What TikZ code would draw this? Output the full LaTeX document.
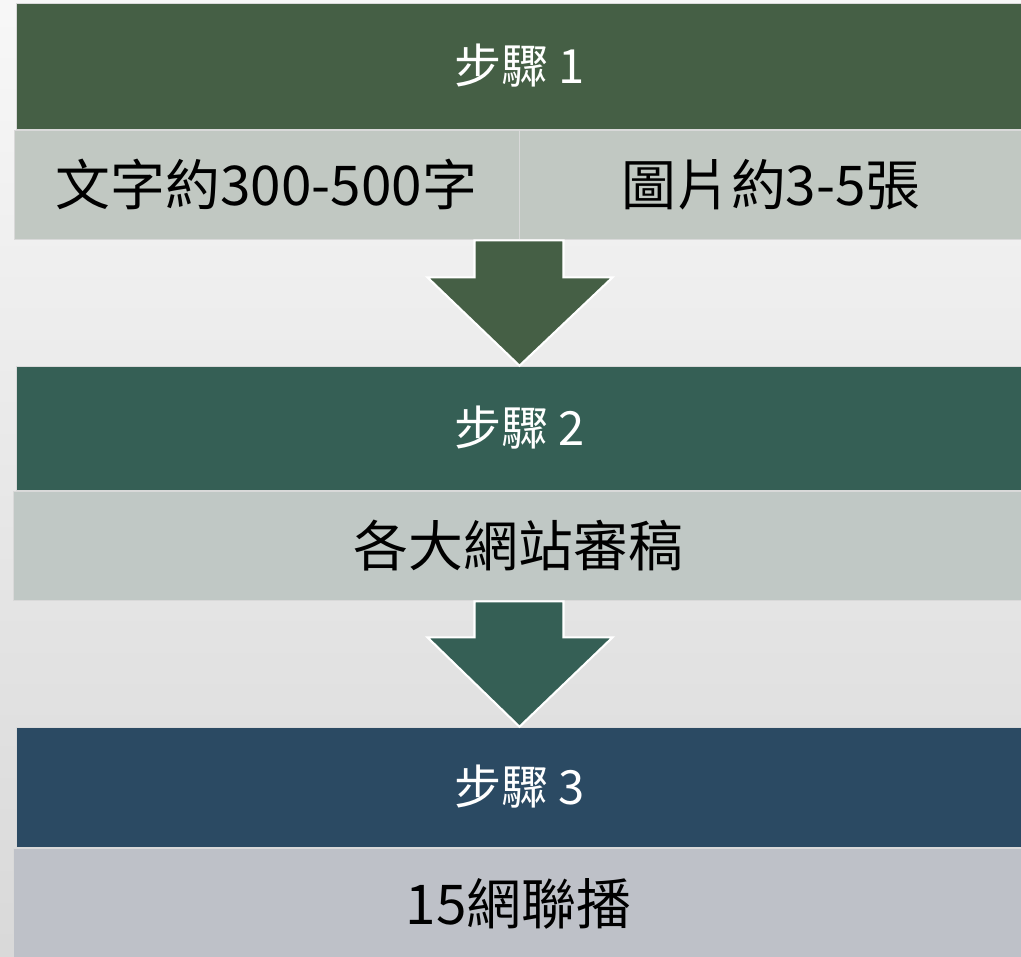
\documentclass[tikz,border=0pt]{standalone}
\usepackage{fontspec}
\setmainfont{Noto Sans CJK TC}
\usepackage{tikz}
\usetikzlibrary{calc}
\usetikzlibrary{positioning}

\definecolor{headone}{RGB}{69,95,69}
\definecolor{headtwo}{RGB}{53,95,85}
\definecolor{headthree}{RGB}{43,74,99}
\definecolor{bodyone}{RGB}{193,200,194}
\definecolor{bodytwo}{RGB}{192,200,197}
\definecolor{bodythree}{RGB}{190,193,200}

\tikzset{
  stephead/.style={draw=white!85!black,line width=0.4pt,text=white,minimum width=25.175cm,
    font=\fontsize{33.5}{38}\selectfont,inner sep=0pt},
  stepbody/.style={draw=white!85!black,line width=0.6pt,text=black,
    font=\fontsize{39}{45}\selectfont,inner sep=0pt},
  downarrow/.style={draw=white,line width=1.5pt,line join=miter}
}

\begin{document}
\begin{tikzpicture}[x=0.025cm,y=-0.025cm]
  \useasboundingbox[top color=white!97!black,bottom color=white!85!black] (0,0) rectangle (1021,957);
  \node[stephead,fill=headone,minimum height=3.15cm](head1) at (519.5,66) {步驟 1};
  \node[stepbody,fill=bodyone,minimum width=12.625cm,minimum height=2.725cm](body1a) at (266.5,184.5) {文字約300-500字};
  \node[stepbody,fill=bodyone,minimum width=12.6cm,minimum height=2.725cm](body1b) at (771,184.5) {圖片約3-5張};
  \node[stephead,fill=headtwo,minimum height=3.1cm](head2) at (519.5,428) {步驟 2};
  \node[stepbody,fill=bodytwo,minimum width=25.225cm,minimum height=2.725cm](body2) at (518.5,545.5) {各大網站審稿};
  \node[stephead,fill=headthree,minimum height=3.0cm](head3) at (519.5,787) {步驟 3};
  \node[stepbody,fill=bodythree,minimum width=25.225cm,minimum height=2.775cm](body3) at (518.5,903.5) {15網聯播};
  % arrows between the steps
  \draw[downarrow,fill=headone] ($(body1a.south east)+(-45,1)$) -- ++(0,37) -- ++(-47,0)
    -- (head2.north) -- ($(body1a.south east)+(93,38)$) -- ++(-49,0) -- ++(0,-37) -- cycle;
  \draw[downarrow,fill=headtwo] ($(body2.south)+(-44,1)$) -- ++(0,36) -- ++(-47,0)
    -- (head3.north) -- ($(body2.south)+(94,37)$) -- ++(-49,0) -- ++(0,-36) -- cycle;
\end{tikzpicture}
\end{document}
